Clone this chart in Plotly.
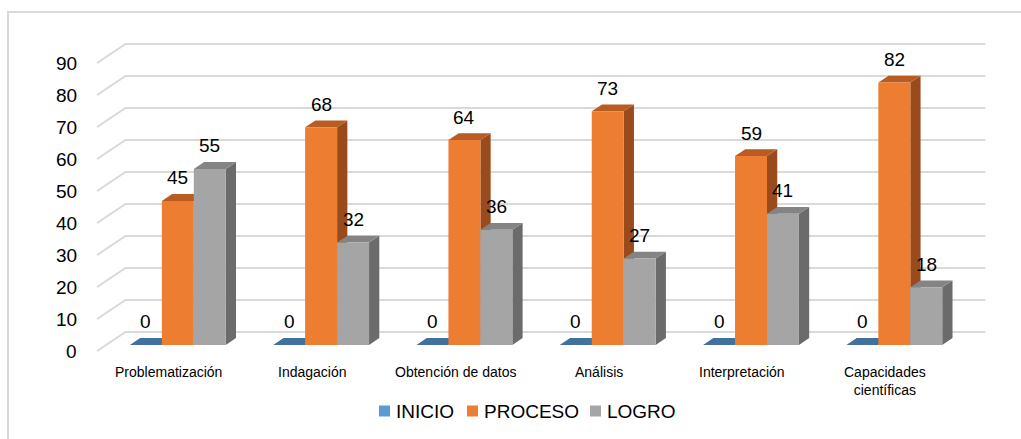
import plotly.graph_objects as go

# ---------------- data ----------------
categories = ["Problematización", "Indagación", "Obtención de datos",
              "Análisis", "Interpretación", "Capacidades<br>científicas"]
series_names = ["INICIO", "PROCESO", "LOGRO"]
inicio = [0, 0, 0, 0, 0, 0]
proceso = [45, 68, 64, 73, 59, 82]
logro = [55, 32, 36, 27, 41, 18]
y_ticks = [0, 10, 20, 30, 40, 50, 60, 70, 80, 90]

series_values = [inicio, proceso, logro]
front_colors = ["#5B9BD5", "#ED7D31", "#A5A5A5"]
top_colors = ["#41719C", "#B85C22", "#848484"]
side_colors = ["#365F8A", "#9A4B1E", "#6B6B6B"]

FONT = "Liberation Sans Narrow, Arial Narrow, Liberation Sans, Arial, sans-serif"

# ---------------- projection (pseudo 3D, Excel-like) ----------------
W, H = 1021, 439
X0, SX = 168.7, 143.3      # pixel of first category (front floor), px per category
Y0, SY = 351.0, 3.2        # pixel of value 0 (front floor), px per value unit
DXP, DYP = 28.5, 19.0      # depth offset in pixels (front -> back wall)
DX, DY = DXP / SX, DYP / SY
D_FRONT, D_BACK = 0.32, 0.68
BAR_W = 0.223


def proj(u, v, d):
    return u + DX * d, v + DY * d


def px_to_x(px):
    return (px - X0) / SX


def py_to_y(py):
    return (Y0 - py) / SY


n = len(categories)
fig = go.Figure()

# back wall + side wall gridlines
gx, gy = [], []
for t in y_ticks:
    for (u, d) in [(-0.5, 0), (-0.5, 1), (n - 0.5, 1)]:
        x, y = proj(u, t, d)
        gx.append(x)
        gy.append(y)
    gx.append(None)
    gy.append(None)
fig.add_trace(go.Scatter(x=gx, y=gy, mode="lines", line=dict(color="#D9D9D9", width=2),
                         showlegend=False, hoverinfo="skip"))


def poly(points):
    xs, ys = [], []
    for p in points:
        xs.append(p[0])
        ys.append(p[1])
    xs.append(points[0][0])
    ys.append(points[0][1])
    return xs, ys


annotations = []
for s, vals in enumerate(series_values):
    faces = {"side": ([], []), "top": ([], []), "front": ([], [])}
    for i, v in enumerate(vals):
        u0 = i - 1.5 * BAR_W + s * BAR_W
        u1 = u0 + BAR_W
        front = [proj(u0, 0, D_FRONT), proj(u1, 0, D_FRONT), proj(u1, v, D_FRONT), proj(u0, v, D_FRONT)]
        top = [proj(u0, v, D_FRONT), proj(u1, v, D_FRONT), proj(u1, v, D_BACK), proj(u0, v, D_BACK)]
        side = [proj(u1, 0, D_FRONT), proj(u1, 0, D_BACK), proj(u1, v, D_BACK), proj(u1, v, D_FRONT)]
        for name, pts in (("side", side), ("top", top), ("front", front)):
            if v == 0 and name != "top":
                continue
            xs, ys = poly(pts)
            faces[name][0].extend(xs + [None])
            faces[name][1].extend(ys + [None])
        lx, ly = proj((u0 + u1) / 2, v, D_FRONT)
        annotations.append(dict(x=lx, y=ly, text=str(v), showarrow=False, yshift=23,
                                xanchor="center", yanchor="middle",
                                font=dict(family=FONT, size=19, color="#000000")))
    for name, col in (("side", side_colors[s]), ("top", top_colors[s]), ("front", front_colors[s])):
        fx, fy = faces[name]
        if not fx:
            continue
        fig.add_trace(go.Scatter(x=fx, y=fy, mode="lines", fill="toself", fillcolor=col,
                                 line=dict(width=0, color=col), showlegend=False, hoverinfo="skip",
                                 name=series_names[s]))

# y tick labels
for t in y_ticks:
    annotations.append(dict(x=px_to_x(79), y=t, text=str(t), showarrow=False,
                            xanchor="right", yanchor="middle",
                            font=dict(family=FONT, size=19, color="#000000")))

# category labels
for i, c in enumerate(categories):
    annotations.append(dict(x=i, y=py_to_y(362), text=c, showarrow=False,
                            xanchor="center", yanchor="top",
                            font=dict(family=FONT, size=14, color="#000000")))

# legend (drawn manually for Excel-like spacing)
shapes = [dict(type="rect", xref="paper", yref="paper", x0=8 / W, y0=-0.05, x1=1.05,
               y1=1 - 12 / H, line=dict(color="#D9D9D9", width=2), fillcolor="rgba(0,0,0,0)")]
LEG_SQ_X = [379, 467, 590]
LEG_Y = 411
for s, name in enumerate(series_names):
    sx = LEG_SQ_X[s]
    shapes.append(dict(type="rect", xref="paper", yref="paper",
                       x0=sx / W, x1=(sx + 11) / W,
                       y0=1 - (LEG_Y + 5.5) / H, y1=1 - (LEG_Y - 5.5) / H,
                       line=dict(width=0), fillcolor=front_colors[s]))
    annotations.append(dict(xref="paper", yref="paper", x=(sx + 15) / W, y=1 - LEG_Y / H,
                            text=name, showarrow=False, xanchor="left", yanchor="middle",
                            font=dict(family=FONT, size=19, color="#000000")))

fig.update_layout(
    width=W, height=H,
    margin=dict(l=0, r=0, t=0, b=0),
    paper_bgcolor="white", plot_bgcolor="white",
    xaxis=dict(range=[px_to_x(0), px_to_x(W)], visible=False, fixedrange=True),
    yaxis=dict(range=[py_to_y(H), py_to_y(0)], visible=False, fixedrange=True),
    annotations=annotations,
    shapes=shapes,
    showlegend=False,
)

fig.write_html("out.html")
